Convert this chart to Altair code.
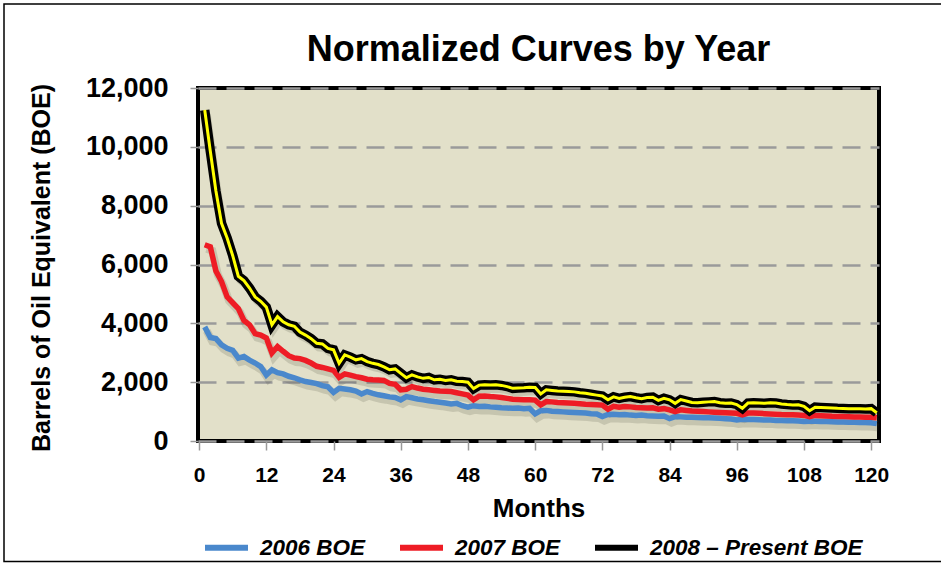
import altair as alt
import pandas as pd

# Month index for every sample (one point per producing month)
months = list(range(1, 122))

boe_2006 = [
    3880, 3520, 3480, 3270, 3150, 3080, 2820, 2870, 2750, 2650,
    2530, 2240, 2420, 2320, 2280, 2200, 2150, 2080, 2020, 1990,
    1950, 1880, 1840, 1650, 1790, 1770, 1740, 1700, 1600, 1680,
    1620, 1570, 1540, 1500, 1480, 1400, 1510, 1470, 1430, 1400,
    1370, 1340, 1320, 1290, 1260, 1280, 1200, 1150, 1200, 1170,
    1180, 1160, 1150, 1130, 1120, 1110, 1120, 1100, 1110, 920,
    1030, 1040, 1010, 1000, 990, 980, 970, 960, 950, 930,
    920, 830, 900, 910, 890, 900, 880, 870, 880, 860,
    850, 840, 850, 760, 830, 820, 810, 810, 800, 790,
    790, 780, 770, 760, 750, 715, 740, 730, 730, 720,
    710, 710, 700, 700, 690, 685, 680, 660, 670, 670,
    665, 660, 655, 650, 645, 640, 640, 630, 625, 620,
    590,
]

boe_2007 = [
    6670, 6600, 5780, 5420, 4900, 4700, 4500, 4100, 3950, 3650,
    3600, 3500, 2990, 3210, 3050, 2900, 2820, 2800, 2740, 2650,
    2540, 2500, 2450, 2400, 2160, 2280, 2240, 2190, 2150, 2100,
    2080, 2070, 2060, 1960, 1930, 1740, 1760, 1850, 1800, 1760,
    1740, 1720, 1700, 1690, 1680, 1640, 1600, 1560, 1400, 1520,
    1530, 1510, 1500, 1480, 1450, 1420, 1410, 1400, 1400, 1390,
    1230, 1340, 1330, 1310, 1300, 1290, 1280, 1270, 1250, 1240,
    1230, 1220, 1080, 1180, 1150, 1170, 1160, 1140, 1130, 1120,
    1130, 1080, 1100, 1060, 1000, 1060, 1040, 1020, 1010, 1000,
    990, 980, 970, 960, 950, 940, 885, 950, 950, 940,
    930, 920, 910, 900, 895, 890, 880, 870, 830, 870,
    860, 850, 840, 835, 830, 825, 820, 815, 810, 810,
    790,
]

boe_2008 = [
    11250, 9850, 8500, 7400, 6900, 6300, 5600, 5450, 5200, 4900,
    4750, 4550, 3950, 4230, 4050, 3950, 3900, 3700, 3600, 3480,
    3320, 3300, 3150, 3100, 2640, 2925, 2850, 2760, 2800, 2700,
    2640, 2600, 2520, 2420, 2450, 2300, 2150, 2250, 2180, 2130,
    2160, 2080, 2100, 2060, 2080, 2030, 2020, 2000, 1780, 1900,
    1910, 1905, 1910, 1890, 1850, 1790, 1800, 1810, 1830, 1820,
    1600, 1740, 1720, 1700, 1690, 1680, 1670, 1640, 1620, 1590,
    1560, 1530, 1400, 1500, 1450, 1490, 1510, 1470, 1440, 1480,
    1490, 1380, 1450, 1400, 1280, 1410, 1360, 1310, 1300, 1320,
    1330, 1340, 1300, 1280, 1290, 1240, 1110, 1290, 1300, 1290,
    1280, 1300, 1290, 1260, 1240, 1225, 1230, 1180, 1030, 1150,
    1140, 1130, 1120, 1110, 1105, 1100, 1100, 1095, 1090, 1100,
    960,
]

series_names = ["2006 BOE", "2007 BOE", "2008 – Present BOE"]
series_colors = ["#4A88CC", "#EE1C25", "#000000"]
series_widths = [5.5, 5.5, 9.5]

x_ticks = [0, 12, 24, 36, 48, 60, 72, 84, 96, 108, 120]
y_ticks = [0, 2000, 4000, 6000, 8000, 10000, 12000]

FONT = "Liberation Sans"

frames = []
for name, vals in zip(series_names, [boe_2006, boe_2007, boe_2008]):
    frames.append(pd.DataFrame({"month": months, "boe": vals, "series": name}))
df = pd.concat(frames, ignore_index=True)

x_enc = alt.X(
    "month:Q",
    scale=alt.Scale(domain=[-0.2, 121.4], nice=False, zero=False),
    axis=alt.Axis(
        values=x_ticks,
        title="Months",
        titleFontSize=26,
        titleY=67,
        titleBaseline="middle",
        labelFontSize=21,
        labelPadding=14,
        tickSize=9,
        grid=False,
        domain=False,
    ),
)
y_enc = alt.Y(
    "boe:Q",
    scale=alt.Scale(domain=[0, 12000], nice=False),
    axis=alt.Axis(
        values=y_ticks,
        format=",.0f",
        title="Barrels of Oil Equivalent (BOE)",
        titleFontSize=25,
        titleAngle=270,
        titleX=-157,
        titleY=179.5,
        titleAlign="center",
        titleBaseline="middle",
        labelFontSize=27,
        labelPadding=22,
        tickSize=8,
        grid=True,
        gridColor="#9A9A9A",
        gridWidth=2.5,
        gridDash=[18, 10],
        domain=False,
    ),
)
color_enc = alt.Color(
    "series:N",
    scale=alt.Scale(domain=series_names, range=series_colors),
    legend=alt.Legend(
        title=None,
        orient="none",
        direction="horizontal",
        legendX=4,
        legendY=435,
        symbolType="stroke",
        symbolSize=1849,
        symbolStrokeWidth=6,
        labelFont=FONT,
        labelFontSize=22.5,
        labelFontWeight="bold",
        labelFontStyle="italic",
        labelColor="black",
        labelOffset=9,
        labelLimit=400,
        columnPadding=22,
    ),
)

base = alt.Chart(df)

# soft drop shadow under every curve
shadow = base.mark_line(
    color="#3A3A2A", opacity=0.16, strokeWidth=8, xOffset=2, yOffset=4
).encode(x=x_enc, y=y_enc, detail="series:N")

layers = [shadow]
for name, w in zip(series_names, series_widths):
    layers.append(
        base.transform_filter(alt.datum.series == name)
        .mark_line(strokeWidth=w)
        .encode(x=x_enc, y=y_enc, color=color_enc)
    )

# yellow core stripe on the 2008 curve
layers.append(
    base.transform_filter(alt.datum.series == series_names[2])
    .mark_line(color="#FFFF00", strokeWidth=3)
    .encode(x=x_enc, y=y_enc)
)

# thin frame around the whole figure
frame = alt.Chart(pd.DataFrame({"f": [0]})).mark_rect(
    fillOpacity=0, stroke="black", strokeWidth=1.5
).encode(
    x=alt.value(-194), x2=alt.value(760), y=alt.value(-84), y2=alt.value(473.5)
)
layers.append(frame)

chart = (
    alt.layer(*layers)
    .properties(
        width=681,
        height=353,
        autosize=alt.AutoSizeParams(type="none"),
        padding={"left": 198, "top": 88, "right": 62, "bottom": 122},
        background="white",
        title=alt.TitleParams(
            "Normalized Curves by Year",
            font=FONT,
            fontSize=36,
            fontWeight="bold",
            color="black",
            anchor="middle",
            baseline="alphabetic",
            frame="group",
            offset=-93.75,
        ),
    )
    .configure_view(fill="#E2E0C9", stroke="black", strokeWidth=4)
    .configure_axis(
        labelFont=FONT,
        labelFontWeight="bold",
        labelColor="black",
        titleFont=FONT,
        titleFontWeight="bold",
        titleColor="black",
        tickColor="#999999",
        tickWidth=1.5,
    )
)

chart.save("out.html", embed_options={"renderer": "svg", "actions": False})
